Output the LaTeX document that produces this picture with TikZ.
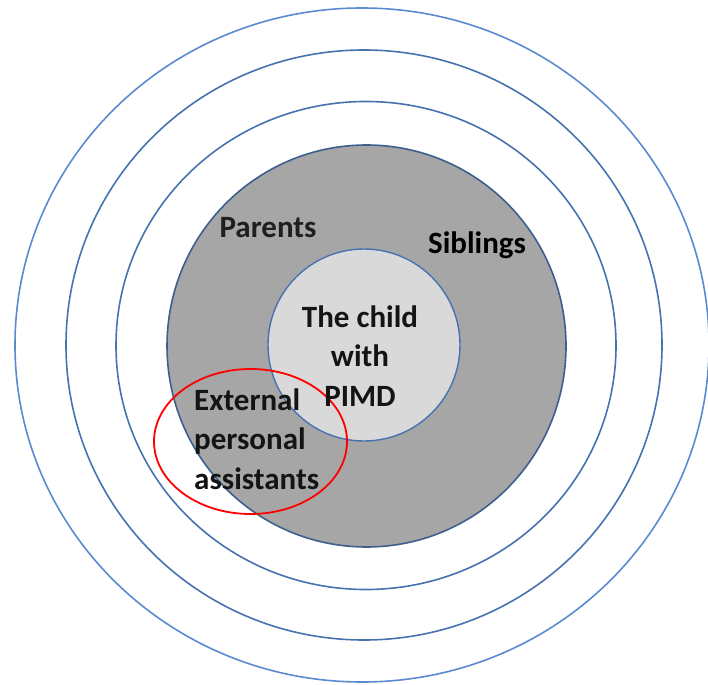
\documentclass[tikz,border=0pt]{standalone}
\usepackage{fontspec}
\setmainfont{Carlito}
\usetikzlibrary{shapes.geometric}
\definecolor{ringblue}{HTML}{5A8AD0}
\definecolor{ringdark}{HTML}{4673B0}
\definecolor{graydisk}{HTML}{A6A6A6}
\definecolor{graylight}{HTML}{D9D9D9}
\definecolor{grayedge}{HTML}{3D5F8E}
\tikzset{
  ring/.style={draw=ringblue, line width=1.6pt, ellipse, inner sep=0pt},
  lbl/.style={font=\fontsize{31}{39.5}\selectfont\bfseries, text={black!92}, inner sep=0pt, align=center},
}
\begin{document}
\begin{tikzpicture}[x=1pt,y=-1pt]
\useasboundingbox (0,0) rectangle (708,684);
\node[ring, minimum width=694pt, minimum height=674pt] (r1) at (362,345) {};
\node[ring, draw=ringdark, minimum width=596pt, minimum height=590pt] (r2) at (364,345) {};
\node[ring, draw=ringdark, minimum width=500pt, minimum height=488pt] (r3) at (366,345.5) {};
\node[ring, draw=grayedge, fill=graydisk, minimum width=399pt, minimum height=402pt] (r4) at (366.5,346) {};
\node[ring, draw=ringdark, line width=1.4pt, fill=graylight, minimum width=192pt, minimum height=192pt] (child) at (364,345) {};
\node[draw=red, line width=1.8pt, ellipse, inner sep=0pt, minimum width=193pt, minimum height=145pt] (epa) at (250.5,441.5) {};
\node[lbl, text={black!88}] (parents) at (268,228) {Parents};
\node[lbl, text=black] (siblings) at (477,245) {Siblings};
\node[lbl] (childtxt) at (360,356) {The child\\with\\PIMD};
\node[lbl, align=left, anchor=west] (epatxt) at (194,439) {External\\personal\\assistants};
\end{tikzpicture}
\end{document}
